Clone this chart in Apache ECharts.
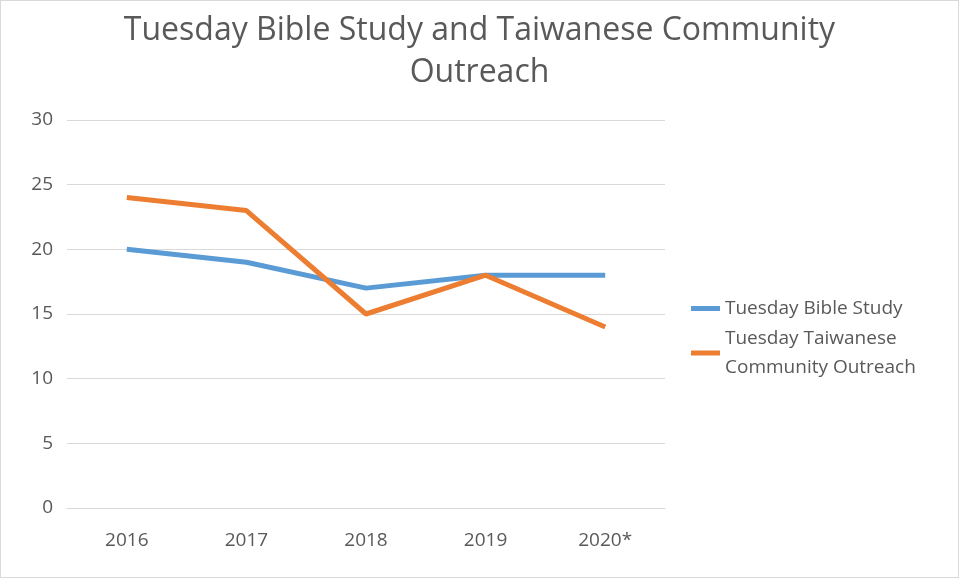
<!DOCTYPE html>
<html>
<head>
<meta charset="utf-8">
<script src="https://cdn.jsdelivr.net/npm/echarts@6/dist/echarts.min.js"></script>
<style>
  html, body { margin: 0; padding: 0; background: #fff; }
  #chart { width: 959px; height: 578px; box-sizing: border-box; border: 1px solid #d9d9d9; }
</style>
</head>
<body>
<div id="chart"></div>
<script>
// chart data
var years = ['2016', '2017', '2018', '2019', '2020*']
var bibleStudy = [20, 19, 17, 18, 18]
var communityOutreach = [24, 23, 15, 18, 14]

var textColor = '#595959'
var fontFamily = '"Open Sans", "Liberation Sans", sans-serif'

var chart = echarts.init(document.getElementById('chart'))
chart.setOption({
  animation: false,
  title: {
    text: 'Tuesday Bible Study and Taiwanese Community\nOutreach',
    left: 'center',
    top: 4,
    textStyle: {
      color: textColor,
      fontFamily: fontFamily,
      fontWeight: 'normal',
      fontSize: 32,
      lineHeight: 42
    }
  },
  grid: {
    left: 66,
    right: 293,
    top: 119,
    bottom: 69
  },
  legend: {
    orient: 'vertical',
    left: 685,
    top: 288,
    itemWidth: 29,
    itemHeight: 5,
    itemGap: 1,
    icon: 'rect',
    textStyle: {
      color: textColor,
      fontFamily: fontFamily,
      fontSize: 19,
      lineHeight: 29
    },
    data: ['Tuesday Bible Study', 'Tuesday Taiwanese\nCommunity Outreach']
  },
  xAxis: {
    type: 'category',
    data: years,
    boundaryGap: true,
    axisLine: { lineStyle: { color: '#d9d9d9' } },
    axisTick: { show: false },
    axisLabel: {
      color: textColor,
      fontFamily: fontFamily,
      fontSize: 19,
      margin: 23
    }
  },
  yAxis: {
    type: 'value',
    min: 0,
    max: 30,
    interval: 5,
    axisLine: { show: false },
    axisTick: { show: false },
    splitLine: { lineStyle: { color: '#d9d9d9' } },
    axisLabel: {
      color: textColor,
      fontFamily: fontFamily,
      fontSize: 19,
      margin: 14
    }
  },
  series: [
    {
      name: 'Tuesday Bible Study',
      type: 'line',
      data: bibleStudy,
      symbol: 'none',
      color: '#5b9bd5',
      lineStyle: { width: 5, color: '#5b9bd5' }
    },
    {
      name: 'Tuesday Taiwanese\nCommunity Outreach',
      type: 'line',
      data: communityOutreach,
      symbol: 'none',
      color: '#ed7d31',
      lineStyle: { width: 5, color: '#ed7d31' }
    }
  ]
})
</script>
</body>
</html>
